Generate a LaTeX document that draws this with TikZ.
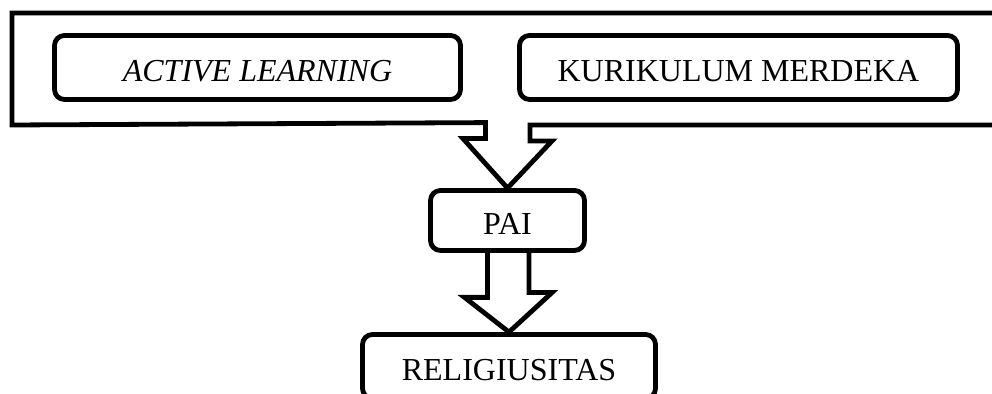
\documentclass[tikz,border=0pt]{standalone}
\usepackage{fontspec}
\setmainfont{Liberation Serif}

\begin{document}
\begin{tikzpicture}[
    	box/.style={draw, line width=2.4pt, rounded corners=5pt, inner sep=0pt, align=center, text height=14pt, font=\fontsize{16}{19}\selectfont},
    	callout/.style={draw, line width=2.4pt, line join=miter},
    ]
        \useasboundingbox (0, 0) rectangle (496pt, -197pt);
        \clip (0, 0) rectangle (496pt, -197pt);

        \node[box, minimum width=203pt, minimum height=32pt] (active) at (128.75pt, -33.75pt) {\textit{ACTIVE LEARNING}};
        \node[box, minimum width=219pt, minimum height=32pt] (kurikulum) at (369.25pt, -33.75pt) {KURIKULUM MERDEKA};
        \node[box, minimum width=77pt, minimum height=30pt] (pai) at (253.75pt, -110.25pt) {PAI};
        \node[box, minimum width=146.5pt, minimum height=32pt] (religi) at (254.5pt, -183.25pt) {RELIGIUSITAS};

        % outer frame, its bottom runs into the first arrow
        \draw[callout] (510pt, -62.5pt) -- (265pt, -62.5pt) -- ++(0, -8pt) -- ++(11pt, 0)
            -- (pai.north) -- ++(-22.25pt, 24.75pt) -- ++(11.25pt, 0) -- ++(0, 8pt)
            -- (6pt, -62.5pt) -- (6pt, -6.5pt) -- (510pt, -6.5pt);

        % second arrow
        \draw[callout] (pai.south) ++(-10pt, 0) -- ++(0, -22.25pt) -- ++(-11.5pt, 0)
            -- (religi.north) -- ++(21.5pt, 19.75pt) -- ++(-11.5pt, 0) -- ++(0, 22.25pt);
    \end{tikzpicture}
\end{document}
